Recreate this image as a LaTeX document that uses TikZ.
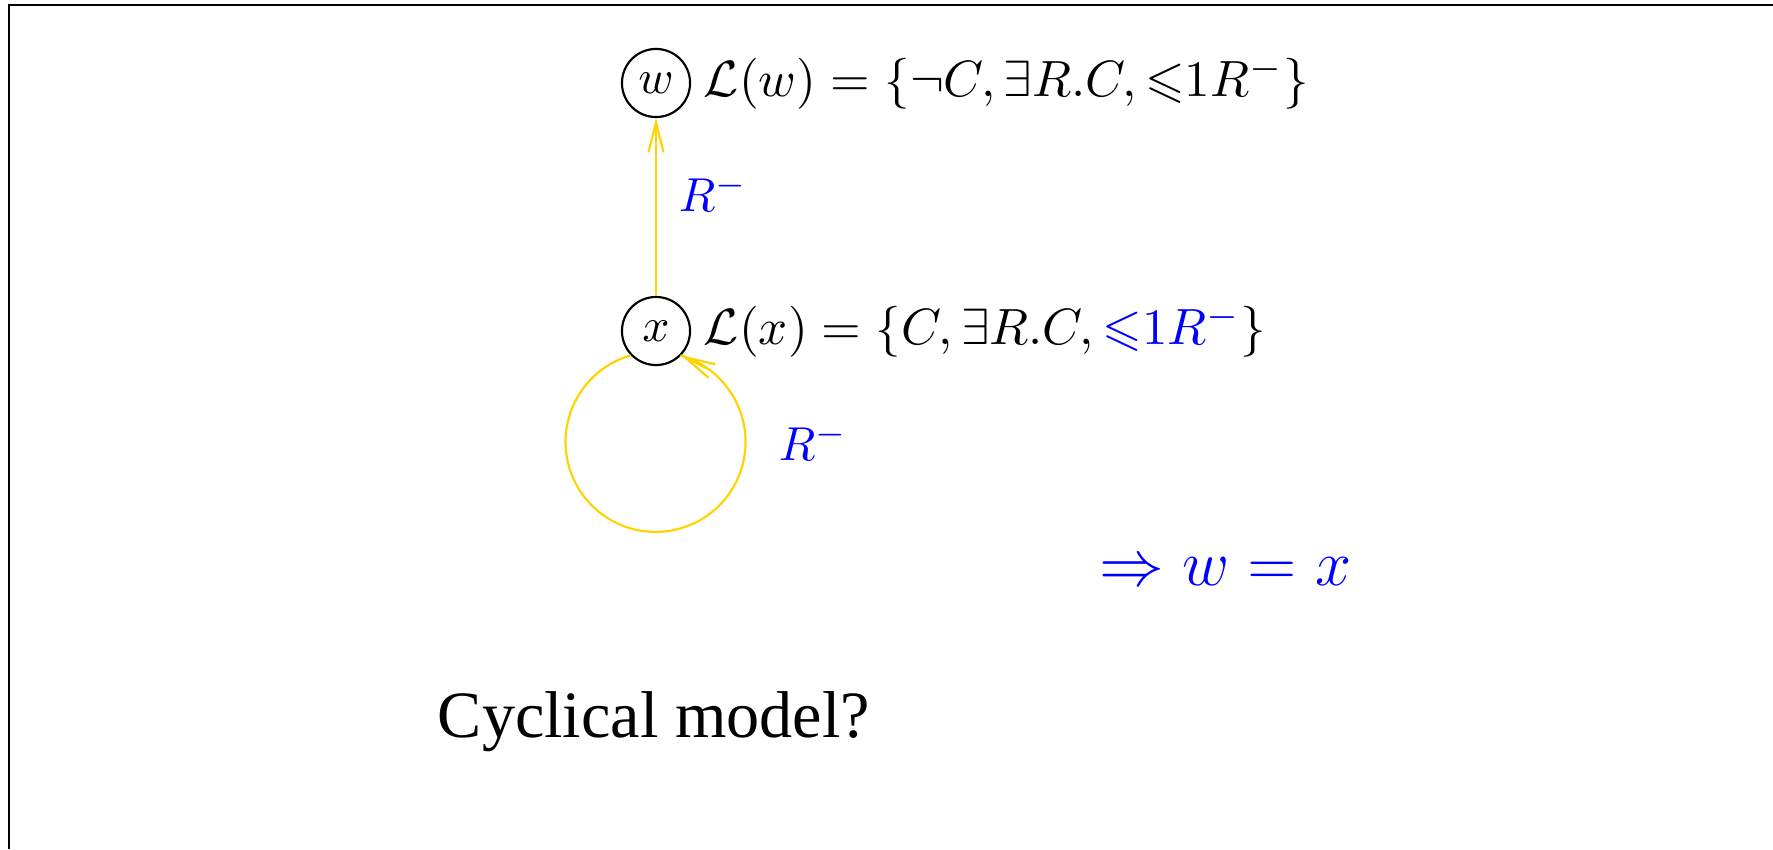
\RequirePackage{fix-cm}
\documentclass[tikz,border=0pt]{standalone}
\usepackage{amssymb}
\usepackage[no-math]{fontspec}
\newfontfamily\tnr{Liberation Serif}
\usetikzlibrary{arrows.meta}
\definecolor{gold}{RGB}{255,210,0}
\tikzset{
  state/.style={circle, draw, line width=0.45pt, minimum size=14.3pt, inner sep=0pt},
  link/.style={draw=gold, line width=0.45pt},
  edge/.style={link, -{Straight Barb[length=6.3pt,width=3.2pt]}},
  lbl/.style={anchor=west, inner sep=0pt, font=\fontsize{10.7}{13}\selectfont},
  rlbl/.style={anchor=base west, inner sep=0pt, text=blue},
  frame/.style={line width=0.5pt}
}
\begin{document}
\begin{tikzpicture}[x=0.21pt,y=0.21pt]
\useasboundingbox (0,0) rectangle (1773,849);
\draw[frame] (9,0) -- (9,844) -- (1773,844);
\node[state] (w) at (656,766) {$w$};
\node[state] (x) at (656,518) {$x$};
\node[lbl] (lw) at ([xshift=2.5pt]w.east) {$\mathcal{L}(w)=\{\neg C,\exists R.C,{\leqslant}1R^-\}$};
\node[lbl] (lx) at ([xshift=2.5pt]x.east) {$\mathcal{L}(x)=\{C,\exists R.C,\textcolor{blue}{{\leqslant}1R^-}\}$};
\draw[edge] (x) -- (w);
\node[rlbl] (r1) at (678,637) {$R^-$};
\draw[link] (x.224) arc[start angle=106, end angle=434, radius=90];
\draw[edge] ([shift={(-27:33)}]x.316) -- (x.316);
\node[rlbl] (r2) at (778,388) {$R^-$};
\node[rlbl, font=\fontsize{13.6}{16}\selectfont] (res) at (1099,264) {$\Rightarrow w = x$};
\node[anchor=base west, inner sep=0pt, font=\tnr\fontsize{13.9}{17}\selectfont] (cm) at (437,112) {Cyclical model?};
\end{tikzpicture}
\end{document}
